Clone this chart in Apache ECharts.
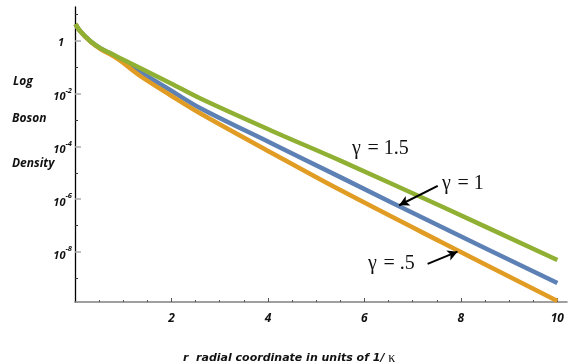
<!DOCTYPE html>
<html><head><meta charset="utf-8">
<script src="https://cdn.jsdelivr.net/npm/echarts@6/dist/echarts.min.js"></script>
<style>html,body{margin:0;padding:0;background:#fff}#c{width:570px;height:364px}</style>
</head><body><div id="c"></div>
<script>
// radial coordinate r (units of 1/kappa)
const radius = [0.01, 0.11, 0.32, 0.53, 0.74, 0.94, 1.36, 1.98, 2.6, 4.05, 5.5, 7.58, 10];
// log10 of boson density
const log10DensityGamma15 = [0.644, 0.367, -0.011, -0.277, -0.466, -0.655, -1.034, -1.602, -2.182, -3.383, -4.538, -6.261, -8.307];
const log10DensityGamma1  = [0.644, 0.367, -0.011, -0.284, -0.485, -0.712, -1.186, -1.867, -2.549, -3.856, -5.163, -7.038, -9.178];
const log10DensityGamma05 = [0.644, 0.367, -0.023, -0.307, -0.515, -0.750, -1.337, -2.057, -2.750, -4.216, -5.655, -7.614, -9.860];
// ticks
const xMajorTicks = [2, 4, 6, 8, 10];
const xMinorTicks = [0.5, 1, 1.5, 2.5, 3, 3.5, 4.5, 5, 5.5, 6.5, 7, 7.5, 8.5, 9, 9.5];
const yLabelTicks = [1, 1e-2, 1e-4, 1e-6, 1e-8];
const yMinorTicks = [10, 1e-1, 1e-3, 1e-5, 1e-7, 1e-9];
// arrow annotations [tail, head] in data coordinates (r, density)
const arrowGamma1 = [[7.52, 3.2e-6], [6.72, 5.9e-7]];
const arrowGamma05 = [[7.31, 3.5e-9], [7.93, 1.02e-8]];

const X_MIN = 0, X_MAX = 10.2, Y_MIN = 1.26e-10, Y_MAX = 19.5;
const lbl = 'Open Sans';
const dv = 'DejaVu Sans';

const chart = echarts.init(document.getElementById('c'), null, {renderer: 'canvas'});
const mk = (logs) => radius.map((r, i) => [r, Math.pow(10, logs[i])]);

chart.setOption({
  animation: false,
  backgroundColor: '#fff',
  grid: {left: 75, top: 7, width: 492, height: 295},
  xAxis: [{
    type: 'value', min: X_MIN, max: X_MAX, position: 'bottom',
    splitLine: {show: false},
    axisLine: {show: true, lineStyle: {color: '#808080', width: 1.6}},
    axisTick: {show: true, inside: true, length: 4, customValues: xMajorTicks, lineStyle: {color: '#555'}},
    axisLabel: {show: true, customValues: xMajorTicks, margin: 11,
      fontFamily: lbl, fontStyle: 'italic', fontWeight: 'bold', fontSize: 12, color: '#111'}
  }, {
    type: 'value', min: X_MIN, max: X_MAX, position: 'bottom',
    splitLine: {show: false},
    axisLine: {show: false},
    axisTick: {show: true, inside: true, length: 2, customValues: xMinorTicks, lineStyle: {color: '#555'}},
    axisLabel: {show: false}
  }],
  yAxis: [{
    type: 'log', logBase: 10, min: Y_MIN, max: Y_MAX, position: 'left',
    splitLine: {show: false},
    axisLine: {show: true, lineStyle: {color: '#000', width: 1.3}},
    axisTick: {show: true, inside: true, length: 6, customValues: yLabelTicks, lineStyle: {color: '#aaa', width: 1.5}},
    axisLabel: {show: true, customValues: yLabelTicks, margin: 3,
      formatter: function (v) {
        const e = Math.round(Math.log10(v));
        if (e === 0) return '{one|1}';
        return '{b|10}{s|' + e + '}';
      },
      rich: {
        one: {fontFamily: lbl, fontStyle: 'italic', fontWeight: 'bold', fontSize: 11, color: '#111', padding: [4, 8, 0, 0]},
        b: {fontFamily: lbl, fontStyle: 'italic', fontWeight: 'bold', fontSize: 11, color: '#111', verticalAlign: 'bottom', lineHeight: 18, padding: [9, 0, 0, 0]},
        s: {fontFamily: lbl, fontStyle: 'italic', fontWeight: 'bold', fontSize: 7.5, color: '#111', verticalAlign: 'top', lineHeight: 18, padding: [2, 0, 0, 0]}
      }
    }
  }, {
    type: 'log', logBase: 10, min: Y_MIN, max: Y_MAX, position: 'left',
    splitLine: {show: false},
    axisLine: {show: false},
    axisTick: {show: true, inside: true, length: 3, customValues: yMinorTicks, lineStyle: {color: '#333'}},
    axisLabel: {show: false}
  }],
  series: [{
    name: 'γ = 1', type: 'line', smooth: 0.35, showSymbol: false, z: 2,
    data: mk(log10DensityGamma1), lineStyle: {color: '#5E81B5', width: 4.5},
    markLine: {silent: true, symbol: ['none', 'arrow'], symbolSize: [8, 10], label: {show: false},
      lineStyle: {color: '#000', width: 2, type: 'solid'},
      data: [[{coord: arrowGamma1[0]}, {coord: arrowGamma1[1]}]]}
  }, {
    name: 'γ = .5', type: 'line', smooth: 0.35, showSymbol: false, z: 3,
    data: mk(log10DensityGamma05), lineStyle: {color: '#E19C24', width: 4.5},
    markLine: {silent: true, symbol: ['none', 'arrow'], symbolSize: [8, 10], label: {show: false},
      lineStyle: {color: '#000', width: 2, type: 'solid'},
      data: [[{coord: arrowGamma05[0]}, {coord: arrowGamma05[1]}]]}
  }, {
    name: 'γ = 1.5', type: 'line', smooth: 0.35, showSymbol: false, z: 4,
    data: mk(log10DensityGamma15), lineStyle: {color: '#8FB032', width: 4.5}
  }],
  graphic: [
    {type: 'text', left: 13, top: 76, style: {text: 'Log', font: 'italic bold 12px "Open Sans"', fill: '#111'}},
    {type: 'text', left: 12, top: 113, style: {text: 'Boson', font: 'italic bold 12px "Open Sans"', fill: '#111'}},
    {type: 'text', left: 12, top: 158, style: {text: 'Density', font: 'italic bold 12px "Open Sans"', fill: '#111'}},
    {type: 'text', left: 352, top: 139, style: {text: 'γ\u2004= 1.5', font: '20px "Liberation Serif"', fill: '#111'}},
    {type: 'text', left: 442, top: 174, style: {text: 'γ\u2004= 1', font: '20px "Liberation Serif"', fill: '#111'}},
    {type: 'text', left: 368, top: 254, style: {text: 'γ\u2004= .5', font: '20px "Liberation Serif"', fill: '#111'}},
    {type: 'text', left: 183, top: 351, style: {
      text: '{a|r  radial coordinate in units of 1/ }{k|κ}',
      rich: {
        a: {fontFamily: dv, fontStyle: 'italic', fontWeight: 'bold', fontSize: 11, fill: '#111'},
        k: {fontFamily: 'Liberation Serif', fontSize: 14, fill: '#111'}
      }}}
  ]
});
</script>
</body></html>
